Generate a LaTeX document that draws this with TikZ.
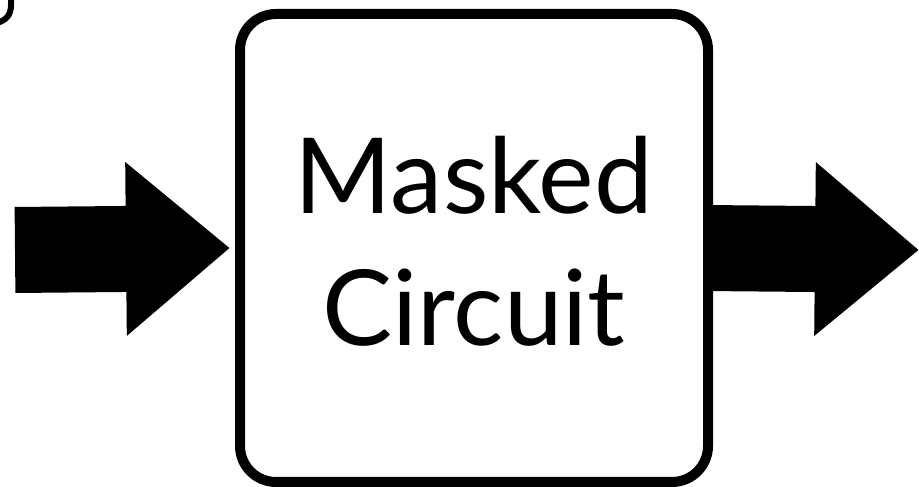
\documentclass[tikz,border=0pt]{standalone}
\usepackage{fontspec}
\setmainfont{Lato}
\usepackage{tikz}
\usetikzlibrary{arrows.meta,positioning}

\begin{document}
\begin{tikzpicture}[
  x=1pt, y=1pt,
  circuitbox/.style={draw, line width=10pt, rounded corners=36pt,
                     minimum width=468pt, minimum height=468pt,
                     align=center, inner sep=0pt, text depth=14pt,
                     font=\fontsize{105}{132}\selectfont},
  bigarrow/.style={line width=86pt,
                   -{Triangle[length=104pt, width=167pt]}},
]
\useasboundingbox (0,0) rectangle (919,487);

% Schaltungsblock
\node[circuitbox] (circuit) at (474,239) {Masked\\Circuit};

% Ein- und Ausgang
\coordinate (in) at (15,237);
\coordinate (out) at (919,237);
\draw[bigarrow] (in) -- ([xshift=-5pt]circuit.west);
\draw[bigarrow] ([xshift=-8pt]circuit.east) -- (out);

% Rest eines Buchstabens oben links
\draw[line width=6pt] (11,492) -- (11,482)
  .. controls (11,472) and (6,466) .. (-4,464);
\end{tikzpicture}
\end{document}
